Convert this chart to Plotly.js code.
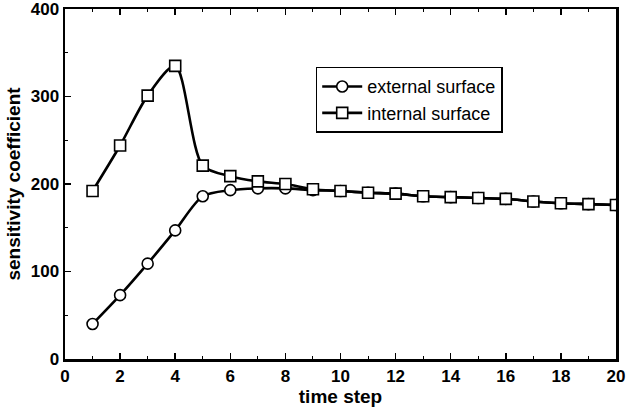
<!DOCTYPE html>
<html>
<head>
<meta charset="utf-8">
<script src="https://cdn.plot.ly/plotly-3.0.1.min.js"></script>
<style>html,body{margin:0;padding:0;background:#fff;}#chart{width:627px;height:420px;}</style>
</head>
<body>
<div id="chart"></div>
<script>
const timeSteps = [1,2,3,4,5,6,7,8,9,10,11,12,13,14,15,16,17,18,19,20];
const externalSurface = [40,73,109,147,186,193,195,195,193,192,190,189,186,185,184,183,180,178,177,176];
const internalSurface = [192,244,301,335,221,209,203,200,194,192,190,189,186,185,184,183,180,178,177,176];
const seriesNames = ["external surface", "internal surface"];
const xTicks = [0,2,4,6,8,10,12,14,16,18,20];
const yTicks = [0,100,200,300,400];

const FONT = "Liberation Sans, Arial, sans-serif";

const traces = [
  {
    x: timeSteps, y: externalSurface, name: seriesNames[0],
    mode: "lines+markers", type: "scatter",
    line: {color: "#000", width: 2.6, shape: "spline", smoothing: 0.8},
    marker: {symbol: "circle", size: 11, color: "#fff", line: {color: "#000", width: 1.6}}
  },
  {
    x: timeSteps, y: internalSurface, name: seriesNames[1],
    mode: "lines+markers", type: "scatter",
    line: {color: "#000", width: 2.6, shape: "spline", smoothing: 0.8},
    marker: {symbol: "square", size: 11, color: "#fff", line: {color: "#000", width: 1.6}}
  }
];

const tickFont = {family: FONT, size: 17, color: "#000", weight: "bold"};

const layout = {
  width: 627, height: 420,
  margin: {l: 65, r: 11, t: 9, b: 61},
  paper_bgcolor: "#fff", plot_bgcolor: "#fff",
  font: {family: FONT, color: "#000"},
  showlegend: true,
  legend: {
    x: 0.455, y: 0.835, xanchor: "left", yanchor: "top",
    bordercolor: "#000", borderwidth: 1.5, bgcolor: "#fff",
    font: {family: FONT, size: 18, color: "#000"},
    tracegroupgap: 0, itemwidth: 40
  },
  xaxis: {
    range: [0, 20], tickvals: xTicks, ticktext: xTicks.map(String),
    showgrid: false, zeroline: false,
    showline: true, linecolor: "#000", linewidth: 2.5, mirror: "ticks",
    ticks: "inside", ticklen: 6, tickwidth: 1.5, tickcolor: "#000",
    minor: {dtick: 1, ticks: "inside", ticklen: 3, tickwidth: 1, tickcolor: "#000", showgrid: false},
    ticklabeloverflow: "allow",
    tickfont: tickFont,
    title: {text: "<b>time step</b>", font: {family: FONT, size: 19, color: "#000"}, standoff: 4}
  },
  yaxis: {
    range: [0, 400], tickvals: yTicks, ticktext: yTicks.map(String),
    showgrid: false, zeroline: false,
    showline: true, linecolor: "#000", linewidth: 2.5, mirror: true,
    ticks: "inside", ticklen: 6, tickwidth: 1.5, tickcolor: "#000",
    minor: {dtick: 50, ticks: "inside", ticklen: 3, tickwidth: 1, tickcolor: "#000", showgrid: false},
    ticklabeloverflow: "allow",
    tickfont: tickFont,
    title: {text: "<b>sensitivity coefficient</b>", font: {family: FONT, size: 19, color: "#000"}, standoff: 5}
  }
};

Plotly.newPlot("chart", traces, layout, {displayModeBar: false, staticPlot: true});
</script>
</body>
</html>
